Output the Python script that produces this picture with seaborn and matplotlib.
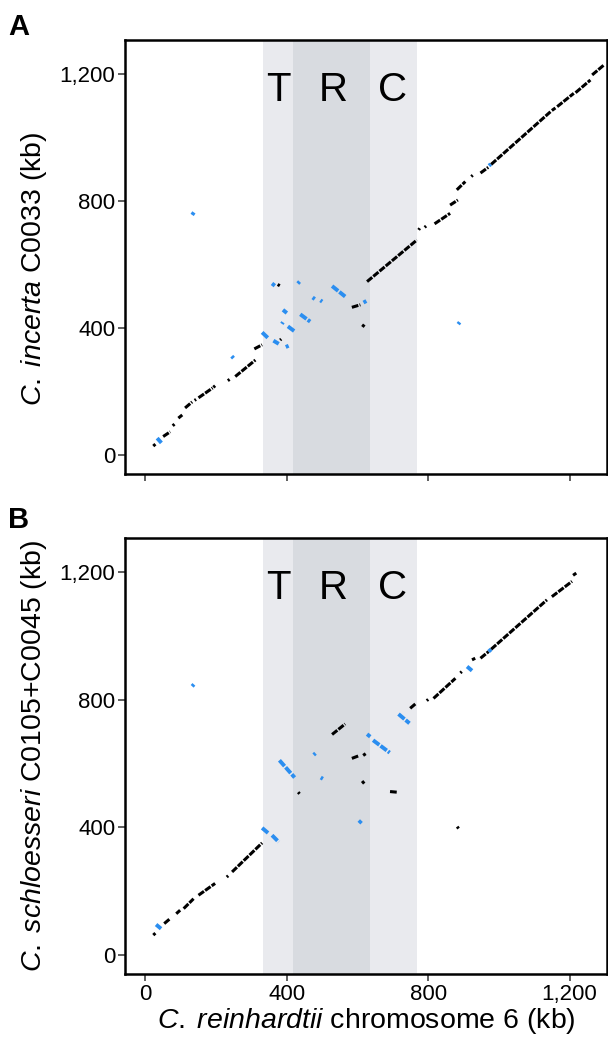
import matplotlib
matplotlib.use("Agg")
import matplotlib.pyplot as plt
import seaborn as sns
import pandas as pd

# ── Data: alignment segments (kb), x = C. reinhardtii chr 6, y = query ──────
# panel A, C. incerta C0033
a_fwd_x0 = [22, 50, 77, 93, 112, 139, 150, 192, 233, 254, 308, 381, 374, 584, 613,
            627, 773, 790, 818, 862, 881, 922, 948, 978, 1150, 1165, 1217, 1264]
a_fwd_x1 = [28, 70, 82, 104, 132, 143, 190, 197, 238, 311, 330, 384, 380, 608, 620,
            768, 776, 794, 862, 884, 905, 926, 970, 1146, 1160, 1212, 1259, 1297]
a_fwd_y0 = [28, 58, 92, 116, 148, 172, 180, 213, 234, 247, 334, 362, 537, 465, 410,
            546, 709, 717, 728, 787, 835, 877, 888, 915, 1085, 1097, 1141, 1197]
a_fwd_y1 = [34, 73, 97, 126, 167, 175, 211, 218, 238, 299, 347, 365, 533, 473, 404,
            677, 714, 721, 761, 803, 861, 881, 906, 1081, 1093, 1139, 1181, 1228]

a_rev_x0 = [33, 132, 244, 330, 362, 358, 386, 389, 403, 397, 431, 438, 473, 495, 528, 617, 885, 972]
a_rev_x1 = [45, 137, 249, 348, 377, 366, 389, 400, 421, 405, 436, 466, 479, 500, 565, 625, 889, 977]
a_rev_y0 = [53, 756, 311, 386, 360, 540, 413, 457, 405, 340, 540, 443, 496, 487, 532, 480, 412, 911]
a_rev_y1 = [38, 764, 305, 367, 350, 533, 418, 447, 390, 344, 546, 420, 491, 483, 499, 485, 418, 916]

# panel B, C. schloesseri C0105+C0045
b_fwd_x0 = [22, 53, 87, 108, 150, 230, 245, 432, 528, 584, 617, 613, 692, 749, 796,
            815, 891, 924, 948, 978, 1150, 1210, 882]
b_fwd_x1 = [28, 70, 98, 136, 197, 234, 330, 436, 565, 603, 622, 619, 712, 766, 800,
            877, 895, 933, 971, 1136, 1207, 1219, 886]
b_fwd_y0 = [62, 98, 129, 145, 187, 244, 260, 510, 691, 616, 632, 545, 512, 773, 797,
            804, 884, 925, 930, 958, 1123, 1190, 402]
b_fwd_y1 = [68, 114, 140, 176, 224, 248, 351, 505, 724, 624, 624, 537, 510, 789, 801,
            867, 888, 930, 951, 1113, 1171, 1197, 396]

b_rev_x0 = [30, 132, 330, 358, 379, 476, 496, 604, 627, 644, 716, 910, 971]
b_rev_x1 = [44, 137, 348, 377, 422, 481, 502, 611, 636, 691, 747, 924, 978]
b_rev_y0 = [95, 842, 398, 375, 610, 627, 556, 413, 692, 673, 755, 904, 951]
b_rev_y1 = [82, 848, 381, 354, 556, 632, 552, 421, 684, 634, 726, 891, 958]

# T / R / C regions (kb)
trc_start, trc_end = 333, 769
r_start, r_end = 418, 634
region_labels = ["T", "R", "C"]
region_label_x = [377, 530, 700]

ticks = [0, 400, 800, 1200]
tick_labels = ["0", "400", "800", "1,200"]

BLUE = "#2b8ef0"


def seg_frame(x0, x1, y0, y1, strand):
    rows = []
    for i, (a, b, c, d) in enumerate(zip(x0, x1, y0, y1)):
        rows.append({"x": a, "y": c, "seg": f"{strand}{i}", "strand": strand})
        rows.append({"x": b, "y": d, "seg": f"{strand}{i}", "strand": strand})
    return pd.DataFrame(rows)


def draw_panel(ax, fwd, rev, ylabel, show_xlabels, ylabel_y):
    ax.axvspan(trc_start, trc_end, color="#e9eaee", lw=0, zorder=0)
    ax.axvspan(r_start, r_end, color="#d8dbe0", lw=0, zorder=0)
    for lab, lx in zip(region_labels, region_label_x):
        ax.text(lx, 1150, lab, ha="center", va="center", fontsize=29, color="black")

    sns.lineplot(data=fwd, x="x", y="y", units="seg", estimator=None, sort=False,
                 color="black", lw=2.2, solid_capstyle="butt", dash_capstyle="butt",
                 linestyle=(0, (2.2, 0.45)), ax=ax, legend=False)
    sns.lineplot(data=rev, x="x", y="y", units="seg", estimator=None, sort=False,
                 color=BLUE, lw=2.8, solid_capstyle="butt", dash_capstyle="butt",
                 linestyle=(0, (2.0, 0.4)), ax=ax, legend=False)

    ax.set_xlim(-58, 1306)
    ax.set_ylim(-60, 1307)
    ax.set_xticks(ticks)
    ax.set_yticks(ticks)
    ax.set_yticklabels(tick_labels)
    if show_xlabels:
        ax.set_xticklabels(tick_labels)
        ax.set_xlabel("$\\it{C.\\;reinhardtii}$ chromosome 6 (kb)", fontsize=20.5,
                      labelpad=1, color="black")
    else:
        ax.set_xticklabels([])
        ax.set_xlabel("")
    ax.set_ylabel(ylabel, fontsize=20.5, color="black")
    ax.yaxis.set_label_coords(-0.158, ylabel_y)
    ax.tick_params(axis="both", which="major", bottom=True, left=True,
                   direction="out", length=5, width=1.1,
                   color="#333333", labelsize=16, labelcolor="black", pad=2)
    for s in ax.spines.values():
        s.set_linewidth(1.8)
        s.set_color("black")
        s.set_visible(True)


sns.set_theme(style="white")
plt.rcParams["font.family"] = ["Liberation Sans", "DejaVu Sans"]
plt.rcParams["mathtext.fontset"] = "custom"
plt.rcParams["mathtext.it"] = "Liberation Sans:italic"
plt.rcParams["mathtext.rm"] = "Liberation Sans"

W, H = 608, 1038
fig = plt.figure(figsize=(W / 100, H / 100), dpi=100)
ax_a = fig.add_axes([125 / W, 1 - 474 / H, 482 / W, 434 / H])
ax_b = fig.add_axes([125 / W, 1 - 974 / H, 482 / W, 436 / H])

draw_panel(ax_a,
           seg_frame(a_fwd_x0, a_fwd_x1, a_fwd_y0, a_fwd_y1, "f"),
           seg_frame(a_rev_x0, a_rev_x1, a_rev_y0, a_rev_y1, "r"),
           "$\\it{C.\\;incerta}$ C0033 (kb)", False, 0.472)
draw_panel(ax_b,
           seg_frame(b_fwd_x0, b_fwd_x1, b_fwd_y0, b_fwd_y1, "f"),
           seg_frame(b_rev_x0, b_rev_x1, b_rev_y0, b_rev_y1, "r"),
           "$\\it{C.\\;schloesseri}$ C0105+C0045 (kb)", True, 0.5)

fig.text(8 / W, 1 - 35 / H, "A", fontsize=21, fontweight="bold", va="baseline", color="black")
fig.text(8 / W, 1 - 528 / H, "B", fontsize=21, fontweight="bold", va="baseline", color="black")

fig.savefig("out.png", dpi=100)
plt.close(fig)
